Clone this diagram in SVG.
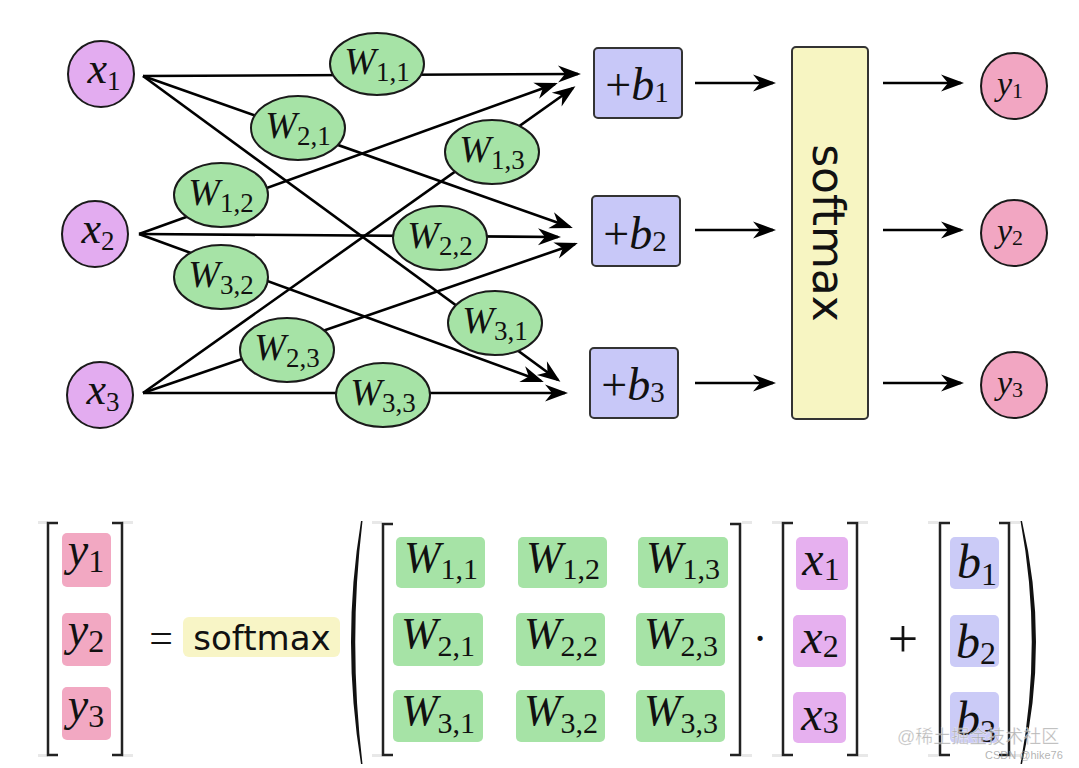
<svg xmlns="http://www.w3.org/2000/svg" width="1079" height="768" viewBox="0 0 1079 768">
<defs>
<marker id="ah" markerUnits="userSpaceOnUse" viewBox="-22 -9 26 18" markerWidth="26" markerHeight="18" refX="0" refY="0" orient="auto">
<path d="M3,0 L-20,-8.5 L-13,0 L-20,8.5 Z" fill="#000"/>
</marker>
<style>
.ln{stroke:#000;stroke-width:2.6;fill:none;marker-end:url(#ah)}
.xn{fill:#e3acf0;stroke:#1a1a1a;stroke-width:2}
.wn{fill:#a6e3a6;stroke:#1a1a1a;stroke-width:2}
.bn{fill:#c8c8f8;stroke:#333;stroke-width:2}
.yn{fill:#f2a6c2;stroke:#1a1a1a;stroke-width:2}
.sm{fill:#f7f5c2;stroke:#333;stroke-width:2}
.m{font-family:"Liberation Serif","DejaVu Serif",serif;fill:#111}
.it{font-style:italic}
.s{font-family:"DejaVu Sans","Liberation Sans",sans-serif;fill:#111}
.br{fill:none;stroke:#222;stroke-width:2.5}
.gy{fill:#e8e8e8}
.ybx{fill:#f2a8c2}
.wbx{fill:#a6e3a6}
.xbx{fill:#e6b0ef}
.bbx{fill:#cbcbf7}
.wm{font-family:"Liberation Sans","Noto Sans CJK SC",sans-serif;fill:#9a9a9a;fill-opacity:0.75}
</style>
</defs>
<rect width="1079" height="768" fill="#fff"/>

<g id="connectors">
<line class="ln" x1="143" y1="76" x2="578" y2="74"/>
<line class="ln" x1="143" y1="76" x2="570" y2="227"/>
<line class="ln" x1="143" y1="76" x2="558" y2="380"/>
<line class="ln" x1="139" y1="234" x2="555" y2="84"/>
<line class="ln" x1="139" y1="234" x2="558" y2="237"/>
<line class="ln" x1="139" y1="234" x2="541" y2="381"/>
<line class="ln" x1="143" y1="393" x2="573" y2="88"/>
<line class="ln" x1="143" y1="393" x2="575" y2="244"/>
<line class="ln" x1="143" y1="393" x2="565" y2="393"/>
<line class="ln" x1="695" y1="83" x2="773" y2="83"/>
<line class="ln" x1="695" y1="230" x2="773" y2="230"/>
<line class="ln" x1="695" y1="383" x2="773" y2="383"/>
<line class="ln" x1="883" y1="83" x2="961" y2="83"/>
<line class="ln" x1="883" y1="230" x2="961" y2="230"/>
<line class="ln" x1="883" y1="383" x2="961" y2="383"/>
</g>

<g id="x1"><circle class="xn" cx="101" cy="74" r="33"/><text class="m" x="104" y="83" text-anchor="middle" font-size="44"><tspan class="it">x</tspan><tspan font-size="27" dy="7">1</tspan></text></g>
<g id="x2"><circle class="xn" cx="95" cy="234" r="33"/><text class="m" x="98" y="243" text-anchor="middle" font-size="44"><tspan class="it">x</tspan><tspan font-size="27" dy="7">2</tspan></text></g>
<g id="x3"><circle class="xn" cx="100" cy="395" r="33"/><text class="m" x="103" y="404" text-anchor="middle" font-size="44"><tspan class="it">x</tspan><tspan font-size="27" dy="7">3</tspan></text></g>

<g id="w11"><ellipse class="wn" cx="377" cy="64" rx="47" ry="31"/><text class="m" x="377" y="74" text-anchor="middle" font-size="38"><tspan class="it">W</tspan><tspan font-size="27" dy="7">1,1</tspan></text></g>
<g id="w21"><ellipse class="wn" cx="298" cy="128" rx="47" ry="32"/><text class="m" x="298" y="138" text-anchor="middle" font-size="38"><tspan class="it">W</tspan><tspan font-size="27" dy="7">2,1</tspan></text></g>
<g id="w12"><ellipse class="wn" cx="221" cy="195" rx="47" ry="32"/><text class="m" x="221" y="205" text-anchor="middle" font-size="38"><tspan class="it">W</tspan><tspan font-size="27" dy="7">1,2</tspan></text></g>
<g id="w13"><ellipse class="wn" cx="492" cy="152" rx="47" ry="32"/><text class="m" x="492" y="162" text-anchor="middle" font-size="38"><tspan class="it">W</tspan><tspan font-size="27" dy="7">1,3</tspan></text></g>
<g id="w22"><ellipse class="wn" cx="440" cy="238" rx="47" ry="32"/><text class="m" x="440" y="248" text-anchor="middle" font-size="38"><tspan class="it">W</tspan><tspan font-size="27" dy="7">2,2</tspan></text></g>
<g id="w32"><ellipse class="wn" cx="221" cy="277" rx="47" ry="32"/><text class="m" x="221" y="287" text-anchor="middle" font-size="38"><tspan class="it">W</tspan><tspan font-size="27" dy="7">3,2</tspan></text></g>
<g id="w31"><ellipse class="wn" cx="495" cy="323" rx="47" ry="32"/><text class="m" x="495" y="333" text-anchor="middle" font-size="38"><tspan class="it">W</tspan><tspan font-size="27" dy="7">3,1</tspan></text></g>
<g id="w23"><ellipse class="wn" cx="287" cy="350" rx="47" ry="32"/><text class="m" x="287" y="360" text-anchor="middle" font-size="38"><tspan class="it">W</tspan><tspan font-size="27" dy="7">2,3</tspan></text></g>
<g id="w33"><ellipse class="wn" cx="383" cy="395" rx="47" ry="32"/><text class="m" x="383" y="405" text-anchor="middle" font-size="38"><tspan class="it">W</tspan><tspan font-size="27" dy="7">3,3</tspan></text></g>

<g id="b1"><rect class="bn" x="594" y="48" width="88" height="70" rx="4"/><text class="m" x="637" y="100" text-anchor="middle" font-size="46">+<tspan class="it">b</tspan><tspan font-size="29" dy="2">1</tspan></text></g>
<g id="b2"><rect class="bn" x="592" y="196" width="88" height="70" rx="4"/><text class="m" x="635" y="249" text-anchor="middle" font-size="46">+<tspan class="it">b</tspan><tspan font-size="29" dy="2">2</tspan></text></g>
<g id="b3"><rect class="bn" x="590" y="348" width="88" height="70" rx="4"/><text class="m" x="633" y="400" text-anchor="middle" font-size="46">+<tspan class="it">b</tspan><tspan font-size="29" dy="2">3</tspan></text></g>

<g id="softmax"><rect class="sm" x="792" y="47" width="76" height="372" rx="4"/><text class="s" transform="translate(813,233) rotate(90)" text-anchor="middle" font-size="44">softmax</text></g>

<g id="y1"><circle class="yn" cx="1014" cy="86" r="33"/><text class="m" x="1010" y="95" text-anchor="middle" font-size="34"><tspan class="it">y</tspan><tspan font-size="22" dy="3">1</tspan></text></g>
<g id="y2"><circle class="yn" cx="1014" cy="233" r="33"/><text class="m" x="1010" y="242" text-anchor="middle" font-size="34"><tspan class="it">y</tspan><tspan font-size="22" dy="3">2</tspan></text></g>
<g id="y3"><circle class="yn" cx="1014" cy="385" r="33"/><text class="m" x="1010" y="394" text-anchor="middle" font-size="34"><tspan class="it">y</tspan><tspan font-size="22" dy="3">3</tspan></text></g>

<g id="equation">
<g class="gy">
<rect x="38" y="521" width="10" height="3"/><rect x="122" y="521" width="11" height="3"/>
<rect x="38" y="754" width="10" height="3"/><rect x="122" y="754" width="11" height="3"/>
<rect x="372" y="521" width="10" height="3"/><rect x="742" y="521" width="10" height="3"/>
<rect x="372" y="754" width="10" height="3"/><rect x="742" y="754" width="10" height="3"/>
<rect x="772" y="521" width="10" height="3"/><rect x="858" y="521" width="10" height="3"/>
<rect x="772" y="754" width="10" height="3"/><rect x="858" y="754" width="10" height="3"/>
<rect x="928" y="521" width="10" height="3"/><rect x="1010" y="521" width="10" height="3"/>
<rect x="928" y="754" width="10" height="3"/><rect x="1010" y="754" width="10" height="3"/>
</g>
<path class="br" d="M58,523 H48 V755 H58 M112,523 H122 V755 H112"/>
<path class="br" d="M393,524 H383 V755 H393 M730,524 H740 V755 H730"/>
<path class="br" d="M793,523 H783 V755 H793 M847,523 H857 V755 H847"/>
<path class="br" d="M950,523 H940 V755 H950 M999,523 H1009 V755 H999"/>
<path d="M361,521 Q341,642 361,764 L362.5,764 Q348,642 362.5,521 Z" fill="#111"/>
<path d="M1022,521 Q1050,642 1022,764 L1020.5,764 Q1043,642 1020.5,521 Z" fill="#111"/>

<rect class="ybx" x="62" y="533" width="49" height="54" rx="5"/>
<rect class="ybx" x="62" y="613" width="49" height="53" rx="5"/>
<rect class="ybx" x="62" y="687" width="49" height="53" rx="5"/>
<text class="m" x="86" y="565" text-anchor="middle" font-size="46"><tspan class="it">y</tspan><tspan font-size="32" dy="7">1</tspan></text>
<text class="m" x="86" y="645" text-anchor="middle" font-size="46"><tspan class="it">y</tspan><tspan font-size="32" dy="7">2</tspan></text>
<text class="m" x="86" y="720" text-anchor="middle" font-size="46"><tspan class="it">y</tspan><tspan font-size="32" dy="7">3</tspan></text>

<text class="m" x="161" y="652" text-anchor="middle" font-size="42">=</text>
<rect x="183" y="617" width="157" height="40" rx="6" fill="#f8f5c6"/>
<text class="s" x="262" y="650" text-anchor="middle" font-size="34">softmax</text>

<rect class="wbx" x="396" y="537" width="89" height="51" rx="5"/>
<rect class="wbx" x="518" y="537" width="89" height="51" rx="5"/>
<rect class="wbx" x="638" y="537" width="90" height="51" rx="5"/>
<rect class="wbx" x="393" y="613" width="90" height="53" rx="5"/>
<rect class="wbx" x="516" y="613" width="89" height="53" rx="5"/>
<rect class="wbx" x="636" y="613" width="89" height="53" rx="5"/>
<rect class="wbx" x="393" y="690" width="90" height="52" rx="5"/>
<rect class="wbx" x="516" y="690" width="89" height="52" rx="5"/>
<rect class="wbx" x="636" y="690" width="89" height="52" rx="5"/>
<g class="m" font-size="44" text-anchor="middle">
<text x="441" y="572"><tspan class="it">W</tspan><tspan font-size="30" dy="7">1,1</tspan></text>
<text x="563" y="572"><tspan class="it">W</tspan><tspan font-size="30" dy="7">1,2</tspan></text>
<text x="683" y="572"><tspan class="it">W</tspan><tspan font-size="30" dy="7">1,3</tspan></text>
<text x="438" y="648"><tspan class="it">W</tspan><tspan font-size="30" dy="8">2,1</tspan></text>
<text x="561" y="648"><tspan class="it">W</tspan><tspan font-size="30" dy="8">2,2</tspan></text>
<text x="681" y="648"><tspan class="it">W</tspan><tspan font-size="30" dy="8">2,3</tspan></text>
<text x="438" y="725"><tspan class="it">W</tspan><tspan font-size="30" dy="8">3,1</tspan></text>
<text x="561" y="725"><tspan class="it">W</tspan><tspan font-size="30" dy="8">3,2</tspan></text>
<text x="681" y="725"><tspan class="it">W</tspan><tspan font-size="30" dy="8">3,3</tspan></text>
</g>

<text class="m" x="760" y="653" text-anchor="middle" font-size="44">·</text>

<rect class="xbx" x="796" y="537" width="52" height="53" rx="5"/>
<rect class="xbx" x="793" y="615" width="53" height="52" rx="5"/>
<rect class="xbx" x="793" y="692" width="53" height="51" rx="5"/>
<text class="m" x="821" y="575" text-anchor="middle" font-size="48"><tspan class="it">x</tspan><tspan font-size="32" dy="5">1</tspan></text>
<text class="m" x="820" y="653" text-anchor="middle" font-size="48"><tspan class="it">x</tspan><tspan font-size="32" dy="4">2</tspan></text>
<text class="m" x="820" y="730" text-anchor="middle" font-size="48"><tspan class="it">x</tspan><tspan font-size="32" dy="3">3</tspan></text>

<text class="m" x="903" y="657" text-anchor="middle" font-size="54">+</text>

<rect class="bbx" x="950" y="537" width="49" height="52" rx="5"/>
<rect class="bbx" x="950" y="615" width="49" height="52" rx="5"/>
<rect class="bbx" x="950" y="692" width="49" height="51" rx="5"/>
<text class="m" x="977" y="578" text-anchor="middle" font-size="48"><tspan class="it">b</tspan><tspan font-size="32" dy="7">1</tspan></text>
<text class="m" x="976" y="658" text-anchor="middle" font-size="48"><tspan class="it">b</tspan><tspan font-size="32" dy="6">2</tspan></text>
<text class="m" x="976" y="735" text-anchor="middle" font-size="48"><tspan class="it">b</tspan><tspan font-size="32" dy="7">3</tspan></text>
</g>

<g id="watermark">
<text class="wm" x="897" y="743" font-size="18" stroke="#fff" stroke-width="0.6" stroke-opacity="0.6">@稀土掘金技术社区</text>
<text class="wm" x="985" y="759" font-size="11">CSDN @hike76</text>
</g>
</svg>
